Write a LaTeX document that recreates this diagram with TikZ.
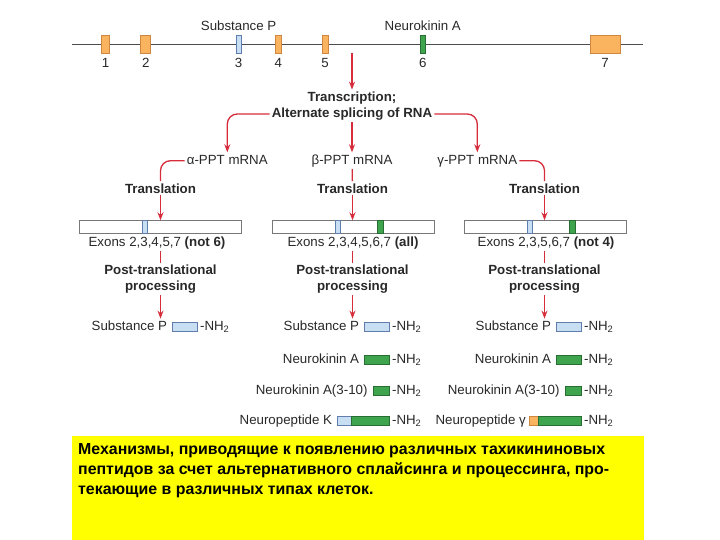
\documentclass[tikz,border=0pt]{standalone}
\usepackage{fontspec}
\setmainfont{Liberation Sans}
\usetikzlibrary{arrows.meta,positioning}

\definecolor{exonorange}{RGB}{250,180,95}
\definecolor{exonedge}{RGB}{205,135,65}
\definecolor{spblue}{RGB}{200,222,242}
\definecolor{spedge}{RGB}{95,125,175}
\definecolor{nkgreen}{RGB}{62,165,78}
\definecolor{nkedge}{RGB}{40,110,50}
\definecolor{arrowred}{RGB}{214,45,60}
\definecolor{txtgray}{RGB}{40,40,40}
\definecolor{bargray}{RGB}{120,120,120}
\definecolor{hlyellow}{RGB}{255,255,0}

\newcommand\lblsize{\fontsize{13.3pt}{15.5pt}\selectfont}
\newcommand\notesize{\fontsize{15.9pt}{20.4pt}\selectfont}

\tikzset{
  geneline/.style={draw=black!70, line width=0.9pt},
  exon/.style={draw=exonedge, fill=exonorange, line width=0.7pt,
    inner sep=0pt, minimum height=17.6pt},
  lbl/.style={text=txtgray, font=\lblsize, inner sep=2pt,
    text height=9.7pt, text depth=2.7pt},
  stage/.style={text=txtgray, font=\lblsize\bfseries, inner sep=2pt,
    align=center},
  redline/.style={draw=arrowred, line width=1.3pt, rounded corners=10pt},
  redarrow/.style={redline, -{Stealth[length=8pt,width=6pt]}},
  mbar/.style={draw=bargray, fill=white, line width=0.8pt,
    minimum width=162.4pt, minimum height=12.6pt, inner sep=0pt},
  stripe/.style={line width=0.6pt, inner sep=0pt, minimum height=12.6pt,
    anchor=west},
  pep/.style={line width=0.6pt, inner sep=0pt, minimum height=9pt,
    anchor=west},
  note/.style={font=\notesize\bfseries, align=left, inner sep=0pt}
}

\begin{document}
\begin{tikzpicture}[x=1pt,y=-1pt]
  \useasboundingbox (0,0) rectangle (720,540);

  % gene with its seven exons
  \coordinate (gl) at (71.5,44.5);
  \coordinate (gr) at (643,44.5);
  \draw[geneline] (gl) -- (gr);

  \node[exon, minimum width=7.6pt] (e1) at (105.5,44.5) {};
  \node[exon, minimum width=10pt] (e2) at (145.7,44.5) {};
  \node[exon, fill=spblue, draw=spedge, minimum width=5.3pt] (e3) at (238.6,44.5) {};
  \node[exon, minimum width=6pt] (e4) at (278.3,44.5) {};
  \node[exon, minimum width=6pt] (e5) at (325,44.5) {};
  \node[exon, fill=nkgreen, draw=nkedge, minimum width=5.7pt] (e6) at (422.8,44.5) {};
  \node[exon, minimum width=30pt] (e7) at (605,44.5) {};

  \node[lbl, below=2pt of e1] (n1) {1};
  \node[lbl, below=2pt of e2] (n2) {2};
  \node[lbl, below=2pt of e3] (n3) {3};
  \node[lbl, below=2pt of e4] (n4) {4};
  \node[lbl, below=2pt of e5] (n5) {5};
  \node[lbl, below=2pt of e6] (n6) {6};
  \node[lbl, below=2pt of e7] (n7) {7};

  \node[lbl, above=0pt of e3] (spname) {Substance P};
  \node[lbl, above=0pt of e6] (nkname) {Neurokinin A};

  % transcription and splicing
  \coordinate (tstart) at (352,53);
  \node[stage] (trans) at (352,98) {Transcription;};
  \node[stage] (splice) at (352,114) {Alternate splicing of RNA};
  \draw[redarrow] (tstart) -- (trans);

  \node[lbl] (alpha) at (227.3,160.7) {α-PPT mRNA};
  \node[lbl] (beta) at (352,160.7) {β-PPT mRNA};
  \node[lbl] (gamma) at (477.3,160.7) {γ-PPT mRNA};

  \draw[redarrow] (splice.west) -| (alpha.north);
  \draw[redarrow] (splice) -- (beta);
  \draw[redarrow] (splice.east) -| (gamma.north);

  % translation
  \node[stage] (trL) at (160.5,188.3) {Translation};
  \node[stage] (trM) at (352.5,188.3) {Translation};
  \node[stage] (trR) at (544.5,188.3) {Translation};

  \draw[redline] (alpha.west) -| (trL.north);
  \draw[redline] (beta) -- (trM);
  \draw[redline] (gamma.east) -| (trR.north);

  % precursor bars
  \node[mbar] (barL) at (160.5,227) {};
  \node[mbar] (barM) at (353.5,227) {};
  \node[mbar] (barR) at (545.5,227) {};

  \node[stripe, fill=spblue, draw=spedge, minimum width=5pt] at ([xshift=63pt]barL.west) {};
  \node[stripe, fill=spblue, draw=spedge, minimum width=5pt] at ([xshift=63pt]barM.west) {};
  \node[stripe, fill=nkgreen, draw=nkedge, minimum width=6.5pt] at ([xshift=105pt]barM.west) {};
  \node[stripe, fill=spblue, draw=spedge, minimum width=5pt] at ([xshift=63pt]barR.west) {};
  \node[stripe, fill=nkgreen, draw=nkedge, minimum width=6.5pt] at ([xshift=105pt]barR.west) {};

  \draw[redarrow] (trL) -- (trL |- barL.north);
  \draw[redarrow] (trM) -- (trM |- barM.north);
  \draw[redarrow] (trR) -- (trR |- barR.north);

  \node[lbl] (exL) at (157,242.5) {Exons 2,3,4,5,7 \textbf{(not 6)}};
  \node[lbl] (exM) at (353,242.5) {Exons 2,3,4,5,6,7 \textbf{(all)}};
  \node[lbl] (exR) at (546,242.5) {Exons 2,3,5,6,7 \textbf{(not 4)}};

  % processing
  \node[stage] (ptL) at (160.5,279) {Post-translational\\processing};
  \node[stage] (ptM) at (352.5,279) {Post-translational\\processing};
  \node[stage] (ptR) at (544.5,279) {Post-translational\\processing};

  \draw[redline] (exL.south -| ptL) -- (ptL);
  \draw[redline] (exM.south -| ptM) -- (ptM);
  \draw[redline] (exR.south -| ptR) -- (ptR);

  % peptides, left
  \node[pep, fill=spblue, draw=spedge, minimum width=25pt] (spLbox) at (172.3,327) {};
  \node[lbl, left=3pt of spLbox] (spL) {Substance P};
  \node[lbl, right=0pt of spLbox] (spLnh) {-NH\textsubscript{2}};

  % peptides, middle
  \node[pep, fill=spblue, draw=spedge, minimum width=25pt] (spMbox) at (364.3,327) {};
  \node[lbl, left=3pt of spMbox] (spM) {Substance P};
  \node[lbl, right=0pt of spMbox] (spMnh) {-NH\textsubscript{2}};

  \node[pep, fill=nkgreen, draw=nkedge, minimum width=25pt] (nkMbox) at (364.3,359.5) {};
  \node[lbl, left=3pt of nkMbox] (nkM) {Neurokinin A};
  \node[lbl, right=0pt of nkMbox] (nkMnh) {-NH\textsubscript{2}};

  \node[pep, fill=nkgreen, draw=nkedge, minimum width=16.6pt] (nksMbox) at (372.7,391) {};
  \node[lbl, left=3pt of nksMbox] (nksM) {Neurokinin A(3-10)};
  \node[lbl, right=0pt of nksMbox] (nksMnh) {-NH\textsubscript{2}};

  \node[pep, fill=spblue, draw=spedge, minimum width=13.4pt] (npkMa) at (337.3,421) {};
  \node[pep, fill=nkgreen, draw=nkedge, minimum width=38.6pt] (npkMb) at (350.7,421) {};
  \node[lbl, left=3pt of npkMa] (npkM) {Neuropeptide K};
  \node[lbl, right=0pt of npkMb] (npkMnh) {-NH\textsubscript{2}};

  % peptides, right
  \node[pep, fill=spblue, draw=spedge, minimum width=25pt] (spRbox) at (556.3,327) {};
  \node[lbl, left=3pt of spRbox] (spR) {Substance P};
  \node[lbl, right=0pt of spRbox] (spRnh) {-NH\textsubscript{2}};

  \node[pep, fill=nkgreen, draw=nkedge, minimum width=25pt] (nkRbox) at (556.3,359.5) {};
  \node[lbl, left=3pt of nkRbox] (nkR) {Neurokinin A};
  \node[lbl, right=0pt of nkRbox] (nkRnh) {-NH\textsubscript{2}};

  \node[pep, fill=nkgreen, draw=nkedge, minimum width=16.6pt] (nksRbox) at (564.7,391) {};
  \node[lbl, left=3pt of nksRbox] (nksR) {Neurokinin A(3-10)};
  \node[lbl, right=0pt of nksRbox] (nksRnh) {-NH\textsubscript{2}};

  \node[pep, fill=exonorange, draw=exonedge, minimum width=9pt] (npgRa) at (529,421) {};
  \node[pep, fill=nkgreen, draw=nkedge, minimum width=43.3pt] (npgRb) at (538,421) {};
  \node[lbl, left=1pt of npgRa] (npgR) {Neuropeptide γ};
  \node[lbl, right=0pt of npgRb] (npgRnh) {-NH\textsubscript{2}};

  \draw[redarrow] (ptL) -- (ptL |- spL.north);
  \draw[redarrow] (ptM) -- (ptM |- spM.north);
  \draw[redarrow] (ptR) -- (ptR |- spR.north);

  % caption
  \fill[hlyellow] (72,436) rectangle (644,540);
  \node[note, anchor=north west] (caption) at (78,443)
    {Механизмы, приводящие к появлению различных тахикининовых\\
     пептидов за счет альтернативного сплайсинга и процессинга, про-\\
     текающие в различных типах клеток.};
\end{tikzpicture}
\end{document}
